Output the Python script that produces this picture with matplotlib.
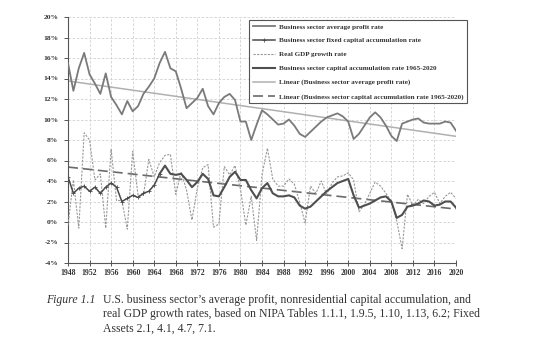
import numpy as np
import matplotlib
matplotlib.use("Agg")
import matplotlib.pyplot as plt

years = list(range(1948, 2021))

profit_rate = [15.5, 12.8, 15.0, 16.5, 14.4, 13.5, 12.5, 14.5, 12.2, 11.4,
               10.5, 11.8, 10.8, 11.3, 12.5, 13.2, 14.0, 15.5, 16.6, 15.0,
               14.7, 13.0, 11.1, 11.6, 12.1, 13.0, 11.3, 10.5, 11.6, 12.2,
               12.5, 11.9, 9.8, 9.8, 8.0, 9.5, 10.9, 10.5, 10.0, 9.5,
               9.6, 10.0, 9.4, 8.6, 8.3, 8.8, 9.3, 9.8, 10.2, 10.4,
               10.6, 10.3, 9.8, 8.1, 8.6, 9.4, 10.2, 10.7, 10.2, 9.4,
               8.4, 7.9, 9.6, 9.8, 10.0, 10.1, 9.7, 9.6, 9.6, 9.6,
               9.8, 9.7, 8.9]

gdp_growth = [-0.3, 4.1, -0.6, 8.7, 8.0, 4.1, 4.7, -0.6, 7.1, 2.1,
              2.1, -0.7, 6.9, 2.6, 2.6, 6.1, 4.4, 5.8, 6.5, 6.6,
              2.7, 4.9, 3.1, 0.2, 3.3, 5.3, 5.6, -0.5, -0.2, 5.4,
              4.6, 5.5, 3.2, -0.3, 2.5, -1.8, 4.6, 7.2, 4.2, 3.5,
              3.5, 4.2, 3.7, 1.9, -0.1, 3.5, 2.8, 4.0, 2.7, 3.8,
              4.4, 4.5, 4.8, 4.1, 1.0, 1.7, 2.8, 3.9, 3.5, 2.8,
              2.0, 0.1, -2.6, 2.7, 1.6, 2.2, 1.8, 2.5, 2.9, 1.8,
              2.5, 2.9, 2.3]

fixed_years = list(range(1948, 1966))
fixed_accum = [4.4, 2.8, 3.3, 3.5, 3.0, 3.4, 2.8, 3.4, 3.8, 3.4,
               2.0, 2.3, 2.6, 2.4, 2.8, 3.0, 3.6, 4.7]

accum_years = list(range(1965, 2021))
capital_accum = [4.7, 5.5, 4.7, 4.6, 4.7, 4.1, 3.4, 3.9, 4.7, 4.2,
                 2.6, 2.5, 3.4, 4.4, 4.9, 4.1, 4.1, 3.1, 2.3, 3.3,
                 3.8, 2.8, 2.5, 2.5, 2.6, 2.4, 1.6, 1.3, 1.5, 2.0,
                 2.5, 3.0, 3.4, 3.8, 4.0, 4.2, 2.6, 1.4, 1.6, 1.8,
                 2.1, 2.4, 2.5, 2.0, 0.4, 0.7, 1.5, 1.6, 1.8, 2.1,
                 2.0, 1.6, 1.7, 2.0, 2.0, 1.4]

labels = [
    "Business sector average profit rate",
    "Business sector fixed capital accumulation rate",
    "Real GDP growth rate",
    "Business sector capital accumulation rate 1965-2020",
    "Linear (Business sector average profit rate)",
    "Linear (Business sector capital accumulation rate 1965-2020)",
]

caption_lead = "Figure 1.1"
caption_text = ("U.S. business sector\u2019s average profit, nonresidential capital accumulation, and\n"
                "real GDP growth rates, based on NIPA Tables 1.1.1, 1.9.5, 1.10, 1.13, 6.2; Fixed\n"
                "Assets 2.1, 4.1, 4.7, 7.1.")

W, H = 540, 354
fig = plt.figure(figsize=(W / 100, H / 100), dpi=100)
ax = fig.add_axes([68 / W, 1 - 263 / H, (456 - 68) / W, (263 - 17) / H])

yr = np.array(years, dtype=float)
p_fit = np.polyfit(yr, profit_rate, 1)
c_fit = np.polyfit(np.array(accum_years, dtype=float), capital_accum, 1)

l1, = ax.plot(years, profit_rate, color="#7a7a7a", lw=1.3, zorder=4)
l2, = ax.plot(fixed_years, fixed_accum, color="#4a4a4a", lw=1.1, marker="+",
              ms=2.5, mew=0.6, zorder=5)
l3, = ax.plot(years, gdp_growth, color="#999999", lw=0.8, ls=(0, (2, 1.2)), zorder=3)
l4, = ax.plot(accum_years, capital_accum, color="#4f4f4f", lw=1.5, zorder=5)
l5, = ax.plot(years, np.polyval(p_fit, yr), color="#b0b0b0", lw=1.1, zorder=2)
l6, = ax.plot(years, np.polyval(c_fit, yr), color="#6a6a6a", lw=1.2,
              ls=(0, (6, 3)), zorder=2)

ax.set_xlim(1948, 2020)
ax.set_ylim(-4, 20)
ax.set_xticks(list(range(1948, 2021, 4)))
ax.set_yticks(list(range(-4, 21, 2)))
ax.set_yticklabels([f"{v}%" for v in range(-4, 21, 2)])
for s in ["top", "right"]:
    ax.spines[s].set_visible(False)
for s in ["left", "bottom"]:
    ax.spines[s].set_color("#555555")
    ax.spines[s].set_linewidth(0.8)
ax.grid(True, color="#d0d0d0", lw=0.6, ls=(0, (3, 2)))
ax.set_axisbelow(True)
ax.tick_params(axis="x", direction="inout", length=5, width=0.7, color="#555555",
               labelsize=5.6, pad=2)
ax.tick_params(axis="y", direction="out", length=3, width=0.7, color="#555555",
               labelsize=5.4, pad=4)
for t in ax.get_xticklabels() + ax.get_yticklabels():
    t.set_fontfamily("Liberation Serif")
    t.set_fontweight("bold")
    t.set_color("#333333")

leg = ax.legend([l1, l2, l3, l4, l5, l6], labels,
                loc="upper right", bbox_to_anchor=(467 / W, 1 - 20 / H),
                bbox_transform=fig.transFigure, fancybox=False, framealpha=1,
                edgecolor="#555555", handlelength=3.1, labelspacing=1.12,
                borderpad=0.5, handletextpad=0.56, borderaxespad=0,
                prop={"family": "Liberation Serif", "weight": "bold", "size": 5.1})
leg.get_frame().set_linewidth(0.8)
for t in leg.get_texts():
    t.set_color("#333333")

fig.text(46 / W, 1 - 300 / H, caption_lead, fontsize=8.5, style="italic",
         family="Liberation Serif", color="#333333", va="center")
fig.text(103 / W, 1 - 293.5 / H, caption_text, fontsize=8.5,
         family="Liberation Serif", color="#333333", va="top", linespacing=1.27)

fig.savefig("out.png", dpi=100)
